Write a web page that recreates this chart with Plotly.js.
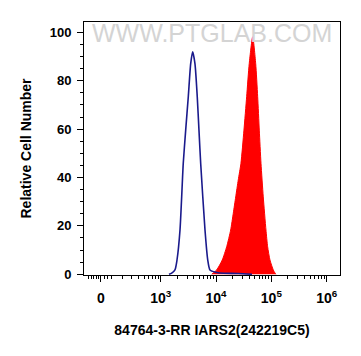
<!DOCTYPE html>
<html>
<head>
<meta charset="utf-8">
<script src="https://cdn.plot.ly/plotly-3.0.1.min.js"></script>
<style>html,body{margin:0;padding:0;background:#fff;}#chart{width:361px;height:356px;}</style>
</head>
<body>
<div id="chart"></div>
<script>
// Control (isotype) histogram - intensity and relative cell number
const controlX = [1413, 1581, 1811, 1972, 2234, 2559, 2831, 3155, 3483, 3784, 4169, 4581, 4920, 5284, 6324, 7079, 7780, 10000, 11803, 25119, 44668];
const controlY = [0, 0.5, 1.8, 5.9, 18.3, 45.9, 59.6, 73.4, 87, 92, 87, 73.4, 59.6, 45.9, 18.3, 6, 1.8, 0.8, 0.5, 0.3, 0];
// Stained sample histogram
const sampleX = [8356, 10280, 12972, 15596, 18408, 20512, 22699, 25235, 28249, 31989, 35810, 39902, 46026, 52119, 56624, 60534, 65013, 71450, 79983, 85704, 94406, 108393, 120226];
const sampleY = [0, 1.8, 5.9, 11.4, 18.3, 25.2, 32, 39, 45.9, 59.6, 73.4, 87.2, 98.2, 87.2, 73.4, 59.6, 45.9, 32, 18.3, 11.4, 5.9, 1.8, 0];
// Axis ticks
const xTickVals = [83, 1000, 10000, 100000, 1000000];
const xTickText = ["0", "10<sup>3</sup>", "10<sup>4</sup>", "10<sup>5</sup>", "10<sup>6</sup>"];
const xMinorVals = [50, 56, 62, 68, 74, 95, 110, 130, 200, 300, 400, 500, 600, 700, 800, 900,
  2000, 3000, 4000, 5000, 6000, 7000, 8000, 9000,
  20000, 30000, 40000, 50000, 60000, 70000, 80000, 90000,
  200000, 300000, 400000, 500000, 600000, 700000, 800000, 900000];
const yTickVals = [0, 20, 40, 60, 80, 100];
const xTitle = "84764-3-RR IARS2(242219C5)";
const yTitle = "Relative Cell Number";
const watermark = "WWW.PTGLAB.COM";

const traces = [
  {
    x: sampleX, y: sampleY, type: 'scatter', mode: 'lines',
    line: {color: '#ff0000', width: 1, shape: 'spline', smoothing: 0.6},
    fill: 'tozeroy', fillcolor: '#ff0000', hoverinfo: 'skip'
  },
  {
    x: controlX, y: controlY, type: 'scatter', mode: 'lines',
    line: {color: '#1a1a8c', width: 1.6, shape: 'spline', smoothing: 0.6},
    hoverinfo: 'skip'
  }
];

const fontFam = 'Liberation Sans, Arial, sans-serif';
const layout = {
  width: 361, height: 356,
  margin: {l: 84, r: 21, t: 22, b: 81},
  paper_bgcolor: '#ffffff', plot_bgcolor: '#ffffff',
  showlegend: false,
  font: {family: fontFam, color: '#000'},
  xaxis: {
    type: 'log', range: [1.614, 6.241],
    tickmode: 'array', tickvals: xTickVals, ticktext: xTickText,
    ticks: 'outside', ticklen: 6, tickwidth: 1, tickcolor: '#000',
    ticklabelstandoff: 4,
    minor: {tickmode: 'array', tickvals: xMinorVals, ticks: 'outside', ticklen: 3, tickcolor: '#000', showgrid: false},
    showline: true, linecolor: '#000', linewidth: 1, mirror: true,
    showgrid: false, zeroline: false,
    tickfont: {family: fontFam, size: 14, color: '#000', weight: 'bold'},
    title: {text: xTitle, font: {family: fontFam, size: 14, color: '#000', weight: 'bold'}, standoff: 20}
  },
  yaxis: {
    range: [-0.3, 104.3],
    tickmode: 'array', tickvals: yTickVals,
    ticks: 'outside', ticklen: 6, tickwidth: 1, tickcolor: '#000',
    ticklabelstandoff: 3,
    minor: {dtick: 5, ticks: 'outside', ticklen: 3, tickcolor: '#000', showgrid: false},
    showline: true, linecolor: '#000', linewidth: 1, mirror: true,
    showgrid: false, zeroline: false,
    tickfont: {family: fontFam, size: 13, color: '#000', weight: 'bold'},
    title: {text: yTitle, font: {family: fontFam, size: 14, color: '#000', weight: 'bold'}, standoff: 14}
  },
  annotations: [
    {
      text: watermark, xref: 'paper', yref: 'paper', x: 0.5, y: 0.955,
      xanchor: 'center', yanchor: 'middle', showarrow: false,
      font: {family: fontFam, size: 25, color: '#d4d4d4'}
    }
  ]
};

Plotly.newPlot('chart', traces, layout, {displayModeBar: false, staticPlot: true});
</script>
</body>
</html>
